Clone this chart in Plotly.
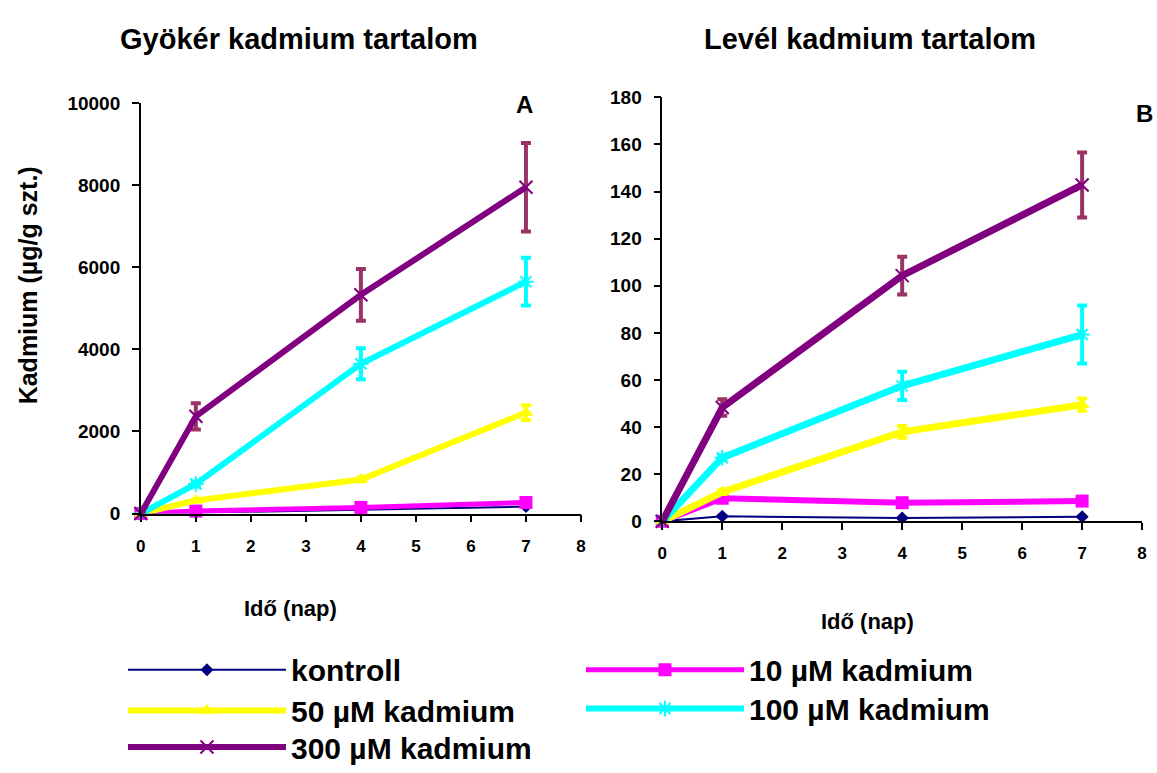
import plotly.graph_objects as go

days = [0, 1, 4, 7]
series_names = ["kontroll", "10 µM kadmium", "50 µM kadmium", "100 µM kadmium", "300 µM kadmium"]

# Gyökér (root) cadmium content, µg/g szt.
root_kontroll = [0, 20, 90, 170]
root_c10 = [0, 60, 150, 270]
root_c50 = [0, 320, 830, 2460]
root_c100 = [0, 720, 3650, 5650]
root_c300 = [0, 2370, 5330, 7950]
root_err_kontroll = [0, 0, 0, 0]
root_err_c10 = [0, 0, 0, 0]
root_err_c50 = [0, 0, 40, 180]
root_err_c100 = [0, 60, 380, 580]
root_err_c300 = [0, 320, 630, 1080]

# Levél (leaf) cadmium content
leaf_kontroll = [0, 2.1, 1.4, 1.9]
leaf_c10 = [0, 9.8, 7.9, 8.6]
leaf_c50 = [0, 12.4, 38.0, 49.5]
leaf_c100 = [0, 27.0, 57.5, 79.3]
leaf_c300 = [0, 48.3, 104.3, 142.8]
leaf_err_kontroll = [0, 0, 0, 0]
leaf_err_c10 = [0, 0.5, 0.5, 0.5]
leaf_err_c50 = [0, 0.8, 2.5, 2.6]
leaf_err_c100 = [0, 1.0, 6.0, 12.3]
leaf_err_c300 = [0, 3.5, 8.0, 13.8]

x_ticks = [0, 1, 2, 3, 4, 5, 6, 7, 8]
root_y_ticks = [0, 2000, 4000, 6000, 8000, 10000]
leaf_y_ticks = [0, 20, 40, 60, 80, 100, 120, 140, 160, 180]

colors = ["#000080", "#FF00FF", "#FFFF00", "#00FFFF", "#800080"]
err_colors = ["#000080", "#FF00FF", "#FFFF00", "#00FFFF", "#993366"]
symbols = ["diamond", "square", "triangle-up", "asterisk-open", "x-thin-open"]
msizes = [10, 13, 13, 13, 13]
lwidths = [2, 5, 6, 6, 6]

root = [root_kontroll, root_c10, root_c50, root_c100, root_c300]
root_err = [root_err_kontroll, root_err_c10, root_err_c50, root_err_c100, root_err_c300]
leaf = [leaf_kontroll, leaf_c10, leaf_c50, leaf_c100, leaf_c300]
leaf_err = [leaf_err_kontroll, leaf_err_c10, leaf_err_c50, leaf_err_c100, leaf_err_c300]

# one legend box per entry (two columns, three rows as in the original)
legend_ids = ["legend", "legend2", "legend3", "legend4", "legend5"]

fig = go.Figure()

for panel, (vals, errs, xa, ya) in enumerate([(root, root_err, "x", "y"), (leaf, leaf_err, "x2", "y2")]):
    for i in range(5):
        sym = symbols[i]
        open_sym = sym.endswith("open")
        fig.add_trace(go.Scatter(
            x=days, y=vals[i], xaxis=xa, yaxis=ya,
            mode="lines+markers", name=series_names[i],
            showlegend=(panel == 0),
            legend=legend_ids[i],
            line=dict(color=colors[i], width=lwidths[i] + (1 if panel == 1 and i > 0 else 0)),
            marker=dict(symbol=sym, size=msizes[i], color=colors[i],
                        line=dict(color=colors[i], width=2 if open_sym else 0)),
            error_y=dict(type="data", array=errs[i], visible=True,
                         color=err_colors[i], thickness=4, width=5),
            cliponaxis=False,
        ))

W, H = 1157, 773
def px_x(p):
    return p / W
def px_y(p):
    return 1 - p / H

ARIAL = "Liberation Sans, Arial, sans-serif"
tick_font_x = dict(family=ARIAL, size=17, color="black", weight="bold")
tick_font_y = dict(family=ARIAL, size=19, color="black", weight="bold")
axis_common = dict(showline=True, linecolor="black", linewidth=1.5, showgrid=False, zeroline=False,
                   ticks="outside", ticklen=7, tickcolor="black", tickwidth=1.5)

legend_font = dict(family=ARIAL, size=30, color="black", weight="bold")
# (left x, row centre y) in pixels for each legend entry
legend_pos = [(119, 680), (581, 680), (119, 722), (581, 720), (119, 760)]
legends = {}
for lid, (lx, ly) in zip(legend_ids, legend_pos):
    legends[lid] = dict(x=px_x(lx), y=px_y(ly), xanchor="left", yanchor="middle",
                        font=legend_font, itemwidth=158, bgcolor="rgba(0,0,0,0)",
                        itemsizing="trace")

fig.update_layout(
    width=W, height=H,
    margin=dict(l=0, r=0, t=0, b=0),
    paper_bgcolor="white", plot_bgcolor="white",
    showlegend=True,
    xaxis=dict(domain=[px_x(137), px_x(581)], range=[0, 8], tickvals=x_ticks, anchor="y",
               ticklabelstandoff=9, tickfont=tick_font_x, **axis_common),
    yaxis=dict(domain=[px_y(519), px_y(96)], range=[0, 10000], tickvals=root_y_ticks, tickformat="d",
               anchor="x", ticklabelstandoff=8, tickfont=tick_font_y, **axis_common),
    xaxis2=dict(domain=[px_x(663), px_x(1147)], range=[0, 8], tickvals=x_ticks, anchor="y2",
                ticklabelstandoff=9, tickfont=tick_font_x, **axis_common),
    yaxis2=dict(domain=[px_y(527), px_y(90)], range=[0, 180], tickvals=leaf_y_ticks,
                anchor="x2", ticklabelstandoff=8, tickfont=tick_font_y, **axis_common),
    **legends,
)

title_font = dict(family=ARIAL, size=29, color="black", weight="bold")
lab_font = dict(family=ARIAL, size=22, color="black", weight="bold")
ann = [
    dict(text="Gyökér kadmium tartalom", x=px_x(297), y=px_y(30), font=title_font),
    dict(text="Levél kadmium tartalom", x=px_x(873), y=px_y(30), font=title_font),
    dict(text="A", x=px_x(524), y=px_y(97), font=dict(family=ARIAL, size=24, color="black", weight="bold")),
    dict(text="B", x=px_x(1149), y=px_y(107), font=dict(family=ARIAL, size=24, color="black", weight="bold")),
    dict(text="Idő (nap)", x=px_x(288), y=px_y(617), font=lab_font),
    dict(text="Idő (nap)", x=px_x(870), y=px_y(630), font=lab_font),
    dict(text="Kadmium (µg/g szt.)", x=px_x(23), y=px_y(284), textangle=-90,
         font=dict(family=ARIAL, size=25, color="black", weight="bold")),
]
for a in ann:
    a.update(xref="paper", yref="paper", showarrow=False, xanchor="center", yanchor="middle")
    fig.add_annotation(**a)

fig.write_html("out.html", config={"displayModeBar": False},
               post_script="document.body.style.margin='0';document.body.style.overflow='hidden';")
